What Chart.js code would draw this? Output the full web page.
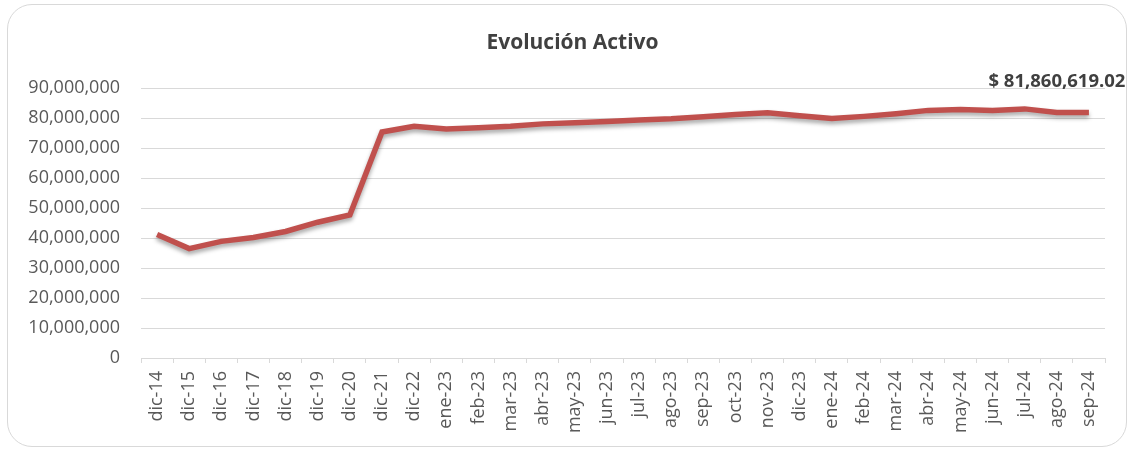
<!DOCTYPE html>
<html>
<head>
<meta charset="utf-8">
<script src="https://cdn.jsdelivr.net/npm/chart.js@4.4.0/dist/chart.umd.min.js"></script>
<style>
    body { margin: 0; background: #fff; }
    #frame { position: absolute; left: 7px; top: 4px; width: 1118px; height: 441px; border: 1px solid #d9d9d9; border-radius: 25px; }
    #chart { position: absolute; left: 0; top: 0; }
</style>
</head>
<body>
<div id="frame"></div>
<canvas id="chart" width="1130" height="450"></canvas>
<script>
var categories = [
    "dic-14", "dic-15", "dic-16", "dic-17", "dic-18", "dic-19", "dic-20", "dic-21", "dic-22",
    "ene-23", "feb-23", "mar-23", "abr-23", "may-23", "jun-23", "jul-23", "ago-23", "sep-23",
    "oct-23", "nov-23", "dic-23", "ene-24", "feb-24", "mar-24", "abr-24", "may-24", "jun-24",
    "jul-24", "ago-24", "sep-24"
];
var activo = [
    41200000, 36500000, 38900000, 40200000, 42200000, 45300000, 47700000, 75400000, 77300000,
    76400000, 76800000, 77300000, 78100000, 78500000, 78900000, 79400000, 79800000, 80500000,
    81200000, 81800000, 80800000, 79900000, 80600000, 81500000, 82600000, 82900000, 82600000,
    83100000, 81900000, 81860619.02
];
var lastLabel = "$ 81,860,619.02";
var yMax = 90000000;
var yStep = 10000000;

// line shadow, like the Excel chart
var shadowPlugin = {
    id: "shadow",
    beforeDatasetDraw: function (chart) {
        var ctx = chart.ctx;
        ctx.save();
        ctx.shadowColor = "rgba(0, 0, 0, 0.35)";
        ctx.shadowBlur = 4;
        ctx.shadowOffsetY = 3;
    },
    afterDatasetDraw: function (chart) {
        chart.ctx.restore();
    }
};

// label for the last point
var lastLabelPlugin = {
    id: "lastLabel",
    afterDraw: function (chart) {
        var ctx = chart.ctx;
        var i = activo.length - 1;
        var x = chart.scales.x.getPixelForValue(i) - 32;
        var y = chart.scales.y.getPixelForValue(activo[i]) - 31;
        ctx.save();
        ctx.font = "bold 18.5px 'Open Sans'";
        ctx.fillStyle = "#404040";
        ctx.textAlign = "center";
        ctx.textBaseline = "middle";
        ctx.fillText(lastLabel, x, y);
        ctx.restore();
    }
};

// nudge the title a bit to the right, as in the original
var titleShiftPlugin = {
    id: "titleShift",
    afterLayout: function (chart) {
        if (chart.titleBlock) {
            chart.titleBlock.left += 40;
        }
    }
};

var ctx = document.getElementById("chart").getContext("2d");
var chart = new Chart(ctx, {
    type: "line",
    data: {
        labels: categories,
        datasets: [
            {
                label: "Activo",
                data: activo,
                borderColor: "#c0504d",
                borderWidth: 5.5,
                pointRadius: 0,
                tension: 0,
                fill: false,
            },
        ],
    },
    options: {
        responsive: false,
        animation: false,
        layout: {
            padding: { top: 0, right: 25, bottom: 0, left: 0 },
        },
        plugins: {
            legend: { display: false },
            tooltip: { enabled: false },
            title: {
                display: true,
                text: "Evolución Activo",
                color: "#404040",
                font: { family: "'Open Sans'", size: 21, weight: "bold", lineHeight: 1.2 },
                padding: { top: 30, bottom: 33 },
            },
        },
        scales: {
            x: {
                offset: true,
                grid: {
                    display: true,
                    drawOnChartArea: false,
                    drawTicks: true,
                    tickLength: 5,
                    offset: true,
                    color: "#d9d9d9",
                },
                border: { color: "#d9d9d9", width: 1 },
                ticks: {
                    autoSkip: false,
                    maxRotation: 90,
                    minRotation: 90,
                    padding: 8,
                    color: "#595959",
                    font: { family: "'Open Sans'", size: 18 },
                },
                afterFit: function (scale) { scale.height = 92; },
            },
            y: {
                min: 0,
                max: yMax,
                grid: { color: "#d9d9d9", drawTicks: false },
                border: { display: false },
                ticks: {
                    stepSize: yStep,
                    padding: 21,
                    color: "#595959",
                    font: { family: "'Open Sans'", size: 18 },
                    callback: function (value) { return value.toLocaleString("en-US"); },
                },
                afterFit: function (scale) { scale.width = 141; },
            },
        },
    },
    plugins: [shadowPlugin, lastLabelPlugin, titleShiftPlugin],
});
</script>
</body>
</html>
